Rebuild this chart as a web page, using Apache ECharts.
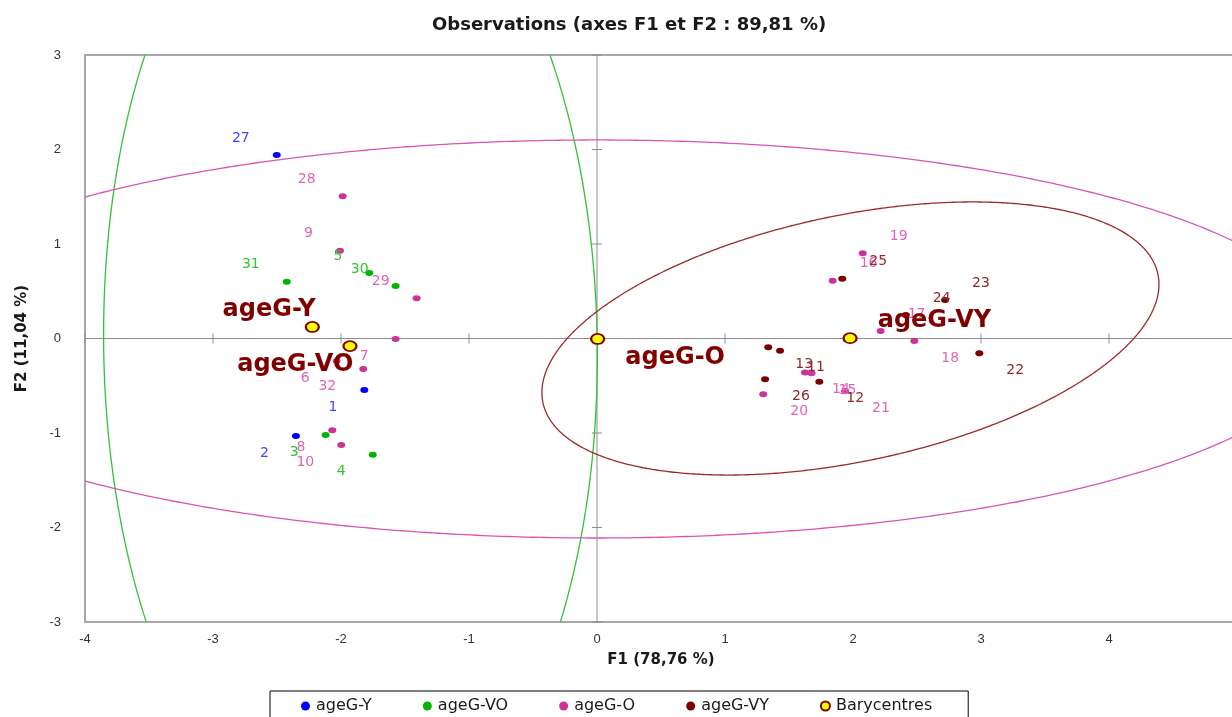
<!DOCTYPE html>
<html><head><meta charset="utf-8">
<script src="https://cdn.jsdelivr.net/npm/echarts@6/dist/echarts.min.js"></script>
<style>html,body{margin:0;padding:0;background:#fff}#c{width:1232px;height:717px}</style>
</head><body><div id="c"></div>
<script>
// ---- tick values ----
const xTicks = [-4, -3, -2, -1, 0, 1, 2, 3, 4, 5];
const yTicks = [-3, -2, -1, 0, 1, 2, 3];

// ---- observations by group ----
const yNames = ['1', '2', '27'];
const yX = [-1.818, -2.352, -2.502];
const yY = [-0.545, -1.032, 1.942];

const voNames = ['3', '4', '5', '30', '31'];
const voX = [-2.120, -1.752, -1.779, -1.573, -2.424];
const voY = [-1.021, -1.230, 0.693, 0.556, 0.601];

const oNames = ['6', '7', '8', '9', '10', '28', '29', '32', '14', '15', '16', '17', '18', '19', '20', '21'];
const oX = [-2.034, -1.573, -2.068, -2.008, -1.998, -1.987, -1.409, -1.826, 1.625, 1.676, 1.841, 2.216, 2.479, 2.076, 1.299, 1.938];
const oY = [-0.238, -0.005, -0.971, 0.929, -1.127, 1.505, 0.425, -0.323, -0.360, -0.368, 0.612, 0.079, -0.026, 0.902, -0.590, -0.556];

const vyNames = ['11', '12', '13', '22', '23', '24', '25', '26'];
const vyX = [1.430, 1.737, 1.338, 2.987, 2.719, 2.412, 1.916, 1.313];
const vyY = [-0.129, -0.457, -0.093, -0.157, 0.407, 0.249, 0.633, -0.432];

// ---- barycentres ----
const baryNames = ['ageG-Y', 'ageG-VO', 'ageG-O', 'ageG-VY'];
const baryX = [-2.224, -1.930, 0.005, 1.977];
const baryY = [0.122, -0.080, -0.005, 0.003];

// ---- confidence ellipses (centre + shape matrix sxx, sxy, syy) ----
const ellCx = [-1.926, 0.0, 1.980];
const ellCy = [-0.074, -0.005, 0.0];
const ellSxx = [3.72, 32.6, 5.81];
const ellSxy = [-0.22, 0.0, 1.38];
const ellSyy = [28.9, 4.435, 2.088];

// ---- styles ----
const ellColors = ['#33c233', '#d955b5', '#9c2b2b'];
const NUM_FONT = 'DejaVu Sans';

function obs(names, xs, ys) {
  return names.map((n, i) => ({
    name: n,
    value: [xs[i], ys[i]],
    label: { position: xs[i] < 0 ? 'left' : 'right', offset: [0, ys[i] > 0 ? -17 : 17] }
  }));
}
function bary(names, xs, ys) {
  return names.map((n, i) => ({
    name: n,
    value: [xs[i], ys[i]],
    label: { position: xs[i] < 0 ? 'left' : 'right', offset: [xs[i] < 0 ? 16 : 15, ys[i] > 0 ? -17 : 19] }
  }));
}
function scat(name, data, color, labelColor) {
  return {
    type: 'scatter', name: name, data: data, symbol: 'circle', symbolSize: [8, 6], z: 5,
    itemStyle: { color: color, opacity: 1 },
    label: { show: true, formatter: '{b}', distance: 23, color: labelColor, fontFamily: NUM_FONT, fontSize: 14 },
    emphasis: { disabled: true }
  };
}

const chart = echarts.init(document.getElementById('c'), null, { renderer: 'canvas' });

const frameLine = { onZero: false, lineStyle: { color: '#a8a8a8', width: 2 } };

chart.setOption({
  animation: false,
  backgroundColor: '#fff',
  title: {
    text: 'Observations (axes F1 et F2 : 89,81 %)',
    left: 427, top: 11,
    textStyle: { fontFamily: NUM_FONT, fontWeight: 'bold', fontSize: 18, color: '#1a1a1a' }
  },
  legend: {
    data: ['ageG-Y', 'ageG-VO', 'ageG-O', 'ageG-VY', 'Barycentres'],
    left: 270, top: 691,
    padding: [7, 36, 12, 31],
    itemGap: 51,
    itemWidth: 9, itemHeight: 9,
    borderColor: '#000', borderWidth: 1,
    textStyle: { fontFamily: NUM_FONT, fontSize: 16, color: '#1a1a1a', padding: [0, 0, 0, 1] }
  },
  grid: { left: 85, top: 55, bottom: 95, right: -5, containLabel: false, outerBoundsMode: 'none' },
  xAxis: [
    {
      type: 'value', min: -4, max: 5, interval: 1, position: 'bottom',
      axisLine: frameLine, axisTick: { show: false }, splitLine: { show: false },
      axisLabel: { color: '#333', fontSize: 13, margin: 11, fontFamily: 'Liberation Sans' },
      name: 'F1 (78,76 %)', nameLocation: 'middle', nameGap: 31,
      nameTextStyle: { fontFamily: NUM_FONT, fontWeight: 'bold', fontSize: 15, color: '#1a1a1a' }
    },
    {
      type: 'value', min: -4, max: 5, interval: 1, position: 'top',
      axisLine: frameLine, axisTick: { show: false }, splitLine: { show: false },
      axisLabel: { show: false }
    }
  ],
  yAxis: {
    type: 'value', min: -3, max: 3, interval: 1,
    axisLine: { show: true, onZero: false, lineStyle: { color: '#a8a8a8', width: 2 } },
    axisTick: { show: false }, splitLine: { show: false },
    axisLabel: { color: '#333', fontSize: 13, margin: 24, fontFamily: 'Liberation Sans' },
    name: 'F2 (11,04 %)', nameLocation: 'middle', nameGap: 55, nameRotate: 90,
    nameTextStyle: { fontFamily: NUM_FONT, fontWeight: 'bold', fontSize: 15, color: '#1a1a1a' }
  },
  series: [
    {
      type: 'custom', name: 'zero', silent: true, z: 1,
      data: [[0, 0]],
      renderItem: function (params, api) {
        const ch = [];
        const st = { stroke: '#8c8c8c', lineWidth: 1 };
        const t = api.coord([0, yTicks[yTicks.length - 1]]), b = api.coord([0, yTicks[0]]);
        ch.push({ type: 'line', shape: { x1: t[0], y1: t[1], x2: b[0], y2: b[1] }, style: st });
        const l = api.coord([xTicks[0], 0]), r = api.coord([xTicks[xTicks.length - 1], 0]);
        ch.push({ type: 'line', shape: { x1: l[0], y1: l[1], x2: r[0], y2: r[1] }, style: st });
        xTicks.forEach(function (v) {
          const p = api.coord([v, 0]);
          ch.push({ type: 'line', shape: { x1: p[0], y1: p[1] - 5, x2: p[0], y2: p[1] + 5 }, style: st });
        });
        yTicks.forEach(function (v) {
          const p = api.coord([0, v]);
          ch.push({ type: 'line', shape: { x1: p[0] - 5, y1: p[1], x2: p[0] + 5, y2: p[1] }, style: st });
        });
        return { type: 'group', children: ch };
      }
    },
    {
      type: 'custom', name: 'ellipses', silent: true, z: 2,
      data: ellCx.map(function (c, i) { return [c, ellCy[i]]; }),
      renderItem: function (params, api) {
        const i = params.dataIndex;
        const l11 = Math.sqrt(ellSxx[i]);
        const l21 = ellSxy[i] / l11;
        const l22 = Math.sqrt(ellSyy[i] - l21 * l21);
        const pts = [];
        for (let k = 0; k <= 720; k++) {
          const a = k * Math.PI / 360;
          pts.push(api.coord([ellCx[i] + l11 * Math.cos(a), ellCy[i] + l21 * Math.cos(a) + l22 * Math.sin(a)]));
        }
        const cs = params.coordSys;
        return {
          type: 'group',
          clipPath: { type: 'rect', shape: { x: cs.x, y: cs.y, width: cs.width, height: cs.height } },
          children: [{ type: 'polyline', shape: { points: pts }, style: { stroke: ellColors[i], fill: null, lineWidth: 1.3 } }]
        };
      }
    },
    scat('ageG-Y', obs(yNames, yX, yY), '#0000ff', '#4747ff'),
    scat('ageG-VO', obs(voNames, voX, voY), '#00b400', '#2fc42f'),
    scat('ageG-O', obs(oNames, oX, oY), '#cc3399', '#e064b4'),
    scat('ageG-VY', obs(vyNames, vyX, vyY), '#7a0000', '#8e2a2a'),
    {
      type: 'scatter', name: 'Barycentres', data: bary(baryNames, baryX, baryY),
      symbol: 'circle', symbolSize: [13, 10], z: 6,
      itemStyle: { color: '#ffff00', borderColor: '#800000', borderWidth: 2, opacity: 1 },
      label: { show: true, formatter: '{b}', distance: 5, color: '#800000', fontFamily: NUM_FONT, fontWeight: 'bold', fontSize: 24 },
      emphasis: { disabled: true }
    }
  ]
});
</script>
</body></html>
